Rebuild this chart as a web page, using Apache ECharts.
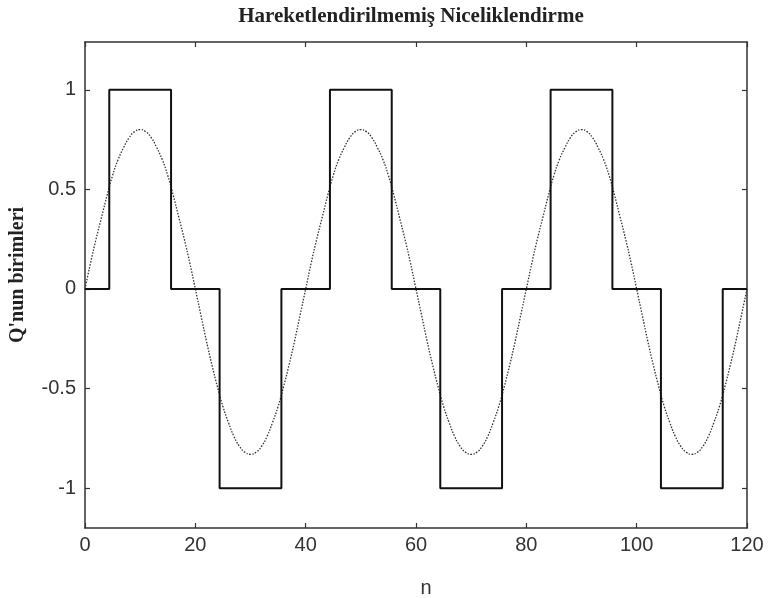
<!DOCTYPE html>
<html>
<head>
<meta charset="utf-8">
<script src="https://cdn.jsdelivr.net/npm/echarts@6/dist/echarts.min.js"></script>
<style>html,body{margin:0;padding:0;background:#fff}#c{width:771px;height:598px}</style>
</head>
<body>
<div id="c"></div>
<script>
var titleText = 'Hareketlendirilmemiş Niceliklendirme';
var xName = 'n';
var yName = "Q'nun birimleri";
var xTicks = [0, 20, 40, 60, 80, 100, 120];
var yTicks = [-1, -0.5, 0, 0.5, 1];
// sampled signal at n = 0..120
var sineValues = [
 0, 0.13, 0.25, 0.36, 0.47, 0.57, 0.65, 0.71, 0.76, 0.79, 0.80, 0.79, 0.76, 0.71, 0.65, 0.57, 0.47, 0.36, 0.25, 0.13,
 0, -0.13, -0.26, -0.38, -0.49, -0.59, -0.67, -0.74, -0.79, -0.82, -0.83, -0.82, -0.79, -0.74, -0.67, -0.59, -0.49, -0.38, -0.26, -0.13,
 0, 0.13, 0.25, 0.36, 0.47, 0.57, 0.65, 0.71, 0.76, 0.79, 0.80, 0.79, 0.76, 0.71, 0.65, 0.57, 0.47, 0.36, 0.25, 0.13,
 0, -0.13, -0.26, -0.38, -0.49, -0.59, -0.67, -0.74, -0.79, -0.82, -0.83, -0.82, -0.79, -0.74, -0.67, -0.59, -0.49, -0.38, -0.26, -0.13,
 0, 0.13, 0.25, 0.36, 0.47, 0.57, 0.65, 0.71, 0.76, 0.79, 0.80, 0.79, 0.76, 0.71, 0.65, 0.57, 0.47, 0.36, 0.25, 0.13,
 0, -0.13, -0.26, -0.38, -0.49, -0.59, -0.67, -0.74, -0.79, -0.82, -0.83, -0.82, -0.79, -0.74, -0.67, -0.59, -0.49, -0.38, -0.26, -0.13,
 0
];
// quantized signal: level held from each start position
var stepStarts = [0, 4.4, 15.6, 24.4, 35.6, 44.4, 55.6, 64.4, 75.6, 84.4, 95.6, 104.4, 115.6, 120];
var stepLevels = [0, 1, 0, -1, 0, 1, 0, -1, 0, 1, 0, -1, 0, 0];

var sineData = sineValues.map(function (v, i) { return [i, v]; });
var stepData = stepStarts.map(function (x, i) { return [x, stepLevels[i]]; });

var axisColor = '#333';
var chart = echarts.init(document.getElementById('c'), null, {renderer: 'canvas'});
function xAx(pos, labels) {
  return {
    type: 'value', position: pos, min: 0, max: 120, interval: 20,
    name: labels ? xName : '', nameLocation: 'middle', nameGap: 50,
    nameTextStyle: {fontFamily: 'Liberation Sans', fontSize: 20, color: '#333', padding: [0, 0, 0, 20]},
    axisLine: {show: true, onZero: false, lineStyle: {color: axisColor, width: 1.5}},
    axisTick: {show: true, inside: true, length: 5, lineStyle: {color: axisColor, width: 1.2}},
    axisLabel: {show: labels, fontFamily: 'Liberation Sans', fontSize: 20, color: '#333', margin: 7},
    splitLine: {show: false}
  };
}
function yAx(pos, labels) {
  return {
    type: 'value', position: pos, min: -1.2, max: 1.24,
    name: labels ? yName : '', nameLocation: 'middle', nameGap: 57,
    nameTextStyle: {fontFamily: 'Liberation Serif', fontWeight: 'bold', fontSize: 20, color: '#222', padding: [0, 0, 0, 20]},
    axisLine: {show: true, onZero: false, lineStyle: {color: axisColor, width: 1.5}},
    axisTick: {show: true, inside: true, length: 5, customValues: yTicks, lineStyle: {color: axisColor, width: 1.2}},
    axisLabel: {show: labels, customValues: yTicks, fontFamily: 'Liberation Sans', fontSize: 20, color: '#333', margin: 9},
    splitLine: {show: false}
  };
}
chart.setOption({
  animation: false,
  backgroundColor: '#fff',
  title: {text: titleText, left: 406, top: 1, textAlign: 'center',
    textStyle: {fontFamily: 'Liberation Serif', fontWeight: 'bold', fontSize: 21, color: '#222'}},
  grid: {left: 85, right: 24, top: 42, bottom: 70, containLabel: false, outerBoundsMode: 'none'},
  xAxis: [xAx('bottom', true), xAx('top', false)],
  yAxis: [yAx('left', true), yAx('right', false)],
  series: [
    {type: 'line', data: sineData, xAxisIndex: 0, yAxisIndex: 0, showSymbol: false, smooth: true,
     lineStyle: {color: '#333', width: 1.3, type: [1.5, 1.5]}},
    {type: 'line', data: stepData, xAxisIndex: 0, yAxisIndex: 0, showSymbol: false, step: 'end',
     lineStyle: {color: '#111', width: 2}}
  ]
});
</script>
</body>
</html>
